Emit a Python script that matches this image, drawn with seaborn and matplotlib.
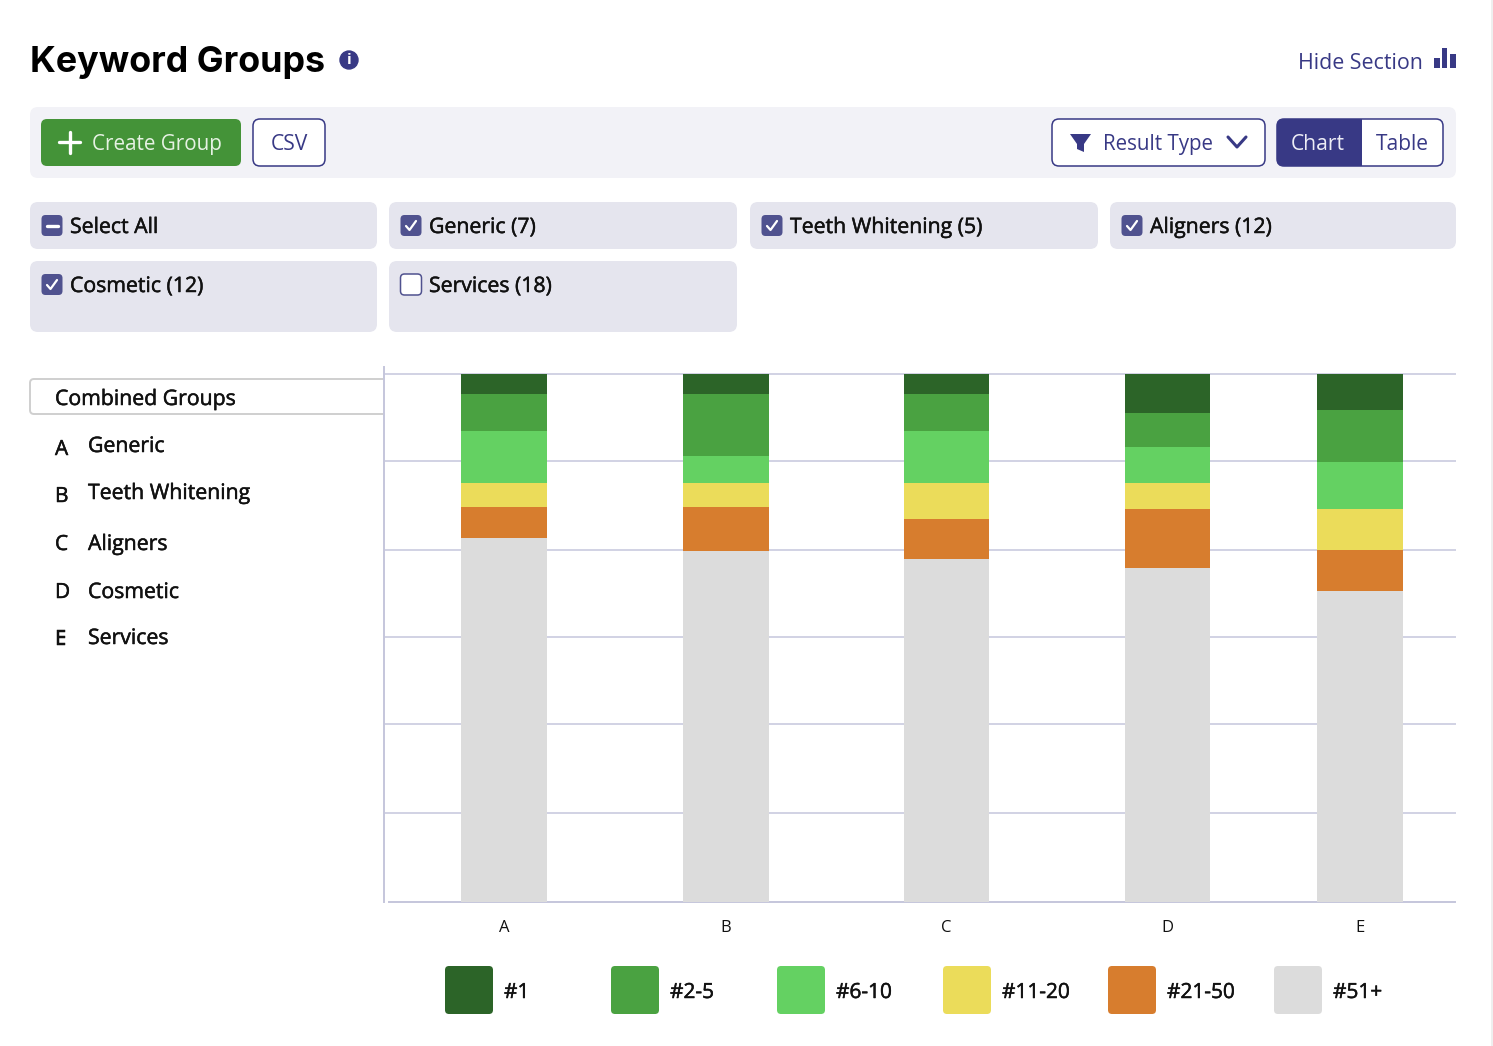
import matplotlib
matplotlib.use("Agg")
import matplotlib.patheffects as pe
import matplotlib.pyplot as plt
import numpy as np
import pandas as pd
import seaborn as sns
from matplotlib.patches import Circle, FancyBboxPatch, Polygon, Rectangle

# values are percent of keywords in each rank band
groups = ["A", "B", "C", "D", "E"]
group_names = ["Generic", "Teeth Whitening", "Aligners", "Cosmetic", "Services"]
group_slots = [0, 1.005, 2.003, 3.002, 3.873]  # the last bar sits closer in the source
rank_1 = [3.9, 3.9, 3.8, 7.5, 6.8]
rank_2_5 = [7.0, 11.7, 7.0, 6.3, 9.8]
rank_6_10 = [9.8, 5.1, 9.8, 6.8, 8.9]
rank_11_20 = [4.5, 4.5, 6.8, 4.9, 7.8]
rank_21_50 = [5.9, 8.3, 7.6, 11.2, 7.8]
rank_51_up = [68.9, 66.5, 65.0, 63.3, 58.9]
rank_labels = ["#1", "#2-5", "#6-10", "#11-20", "#21-50", "#51+"]
rank_colors = ["#2C6428", "#4AA241", "#64D162", "#EBDC5A", "#D77D2E", "#DCDCDC"]
grid_values = [16.9, 33.7, 50.2, 66.7, 83.5, 100]

filter_labels = ["Select All", "Generic (7)", "Teeth Whitening (5)", "Aligners (12)", "Cosmetic (12)", "Services (18)"]

NAVY = "#383985"
CHECK = "#50528F"
TILE = "#E5E5EE"
INK = "#111111"
W, H = 1493, 1046

sns.set_theme(style="white")
plt.rcParams["font.family"] = ["Open Sans", "DejaVu Sans"]

fig = plt.figure(figsize=(W / 100, H / 100), dpi=100, facecolor="white")

# page furniture lives on one axes that uses pixel coordinates
ui = fig.add_axes([0, 0, 1, 1])
ui.set_xlim(0, W)
ui.set_ylim(H, 0)
ui.axis("off")

# the source text is a medium weight, a thin stroke gets close to that
medium = [pe.withStroke(linewidth=0.35, foreground=INK)]


def box(x0, y0, x1, y1, face, edge="none", r=7, lw=1.1):
    ui.add_patch(FancyBboxPatch((x0 + r, y0 + r), x1 - x0 - 2 * r, y1 - y0 - 2 * r,
                                boxstyle="round,pad={},rounding_size={}".format(r, r),
                                fc=face, ec=edge, lw=lw))


def label(x, y, s, color=INK, size=15.3, ha="left", **kw):
    t = ui.text(x, y, s, color=color, fontsize=size, ha=ha, va="center_baseline", **kw)
    if color == INK:
        t.set_path_effects(medium)


def checkbox(x, y, state):
    if state == "empty":
        box(x, y, x + 21, y + 21, "white", CHECK, r=4)
        return
    box(x, y, x + 21, y + 21, CHECK, r=4)
    if state == "minus":
        ui.plot([x + 5, x + 16], [y + 10.5, y + 10.5], color="white", lw=2.4, solid_capstyle="round")
    else:
        ui.plot([x + 5.5, x + 9, x + 15.5], [y + 11, y + 15, y + 6], color="white", lw=1.6)


ui.text(30, 72, "Keyword Groups", color="black", fontsize=25.8, family="Inter", weight="bold")
ui.add_patch(Circle((349, 60), 9, color=NAVY))
ui.text(349, 60.5, "i", color="white", fontsize=11, weight="bold", ha="center", va="center")

label(1298, 61, "Hide Section", color=NAVY, size=15.4)
for x0, top in [(1434, 58), (1441.5, 48), (1450, 54)]:
    ui.add_patch(Rectangle((x0, top), 5.5, 68 - top, fc=NAVY, lw=0))

# toolbar
box(30, 107, 1456, 178, "#F2F2F7", r=8)
box(41, 119, 241, 166, "#449338", r=6)
ui.plot([59, 80], [142, 142], color="white", lw=2.4)
ui.plot([69.5, 69.5], [132, 153], color="white", lw=2.4)
label(92, 142, "Create Group", color="#E6F2E3", size=14.9)
box(253, 119, 325, 166, "white", NAVY, r=7)
label(289, 142, "CSV", color=NAVY, size=15.2, ha="center")

box(1052, 119, 1265, 166, "white", NAVY, r=7)
ui.add_patch(Polygon([(1070, 134), (1091, 134), (1084, 144), (1084, 152), (1077, 149), (1077, 144)], fc=NAVY, lw=0))
label(1103, 142, "Result Type", color=NAVY, size=14.8)
ui.plot([1228, 1237, 1246], [137, 147, 137], color=NAVY, lw=2.2)

box(1277, 119, 1443, 166, "white", NAVY, r=7)
box(1277, 119, 1300, 166, NAVY, r=7)
ui.add_patch(Rectangle((1290, 119), 72, 47, fc=NAVY, lw=0))
label(1318, 142, "Chart", color="#EDEDF6", size=15.1, ha="center")
label(1402, 142, "Table", color=NAVY, size=15.1, ha="center")

# filter tiles
tile_spans = [(30, 377), (389, 737), (750, 1098), (1110, 1456), (30, 377), (389, 737)]
tile_rows = [(202, 249)] * 4 + [(261, 332)] * 2
tile_states = ["minus", "check", "check", "check", "check", "empty"]
for (x0, x1), (y0, y1), state, text in zip(tile_spans, tile_rows, tile_states, filter_labels):
    box(x0, y0, x1, y1, TILE, r=8)
    checkbox(x0 + 11.5, y0 + 13, state)
    label(x0 + 40, y0 + 23, text)

# key for the group letters
box(30, 379, 400, 414, "white", "#CFCFCF", r=4, lw=1.4)
ui.add_patch(Rectangle((384, 370), 30, 50, fc="white", lw=0, zorder=3))
label(55, 397, "Combined Groups")
letter_ys = [447, 494, 542, 590, 637]
name_ys = [444, 491, 542, 590, 636]
for letter, name, ly, ny in zip(groups, group_names, letter_ys, name_ys):
    label(55, ly, letter, size=15)
    label(88, ny, name)

# legend swatches
legend_xs = [445, 611, 777, 943, 1108, 1274]
for x0, color, text in zip(legend_xs, rank_colors, rank_labels):
    box(x0, 966, x0 + 48, 1014, color, r=4)
    label(x0 + 59, 990, text, size=15)

ui.add_patch(Rectangle((1491, 0), 2, H, fc="#EFEFEF", lw=0))

# the stacked chart: same pixel scale, sits over the ui axes
ax = fig.add_axes([384 / W, 1 - 902 / H, (1456 - 384) / W, (902 - 367) / H])
ax.patch.set_alpha(0)

bands = [rank_1, rank_2_5, rank_6_10, rank_11_20, rank_21_50, rank_51_up]
for i, color in enumerate(rank_colors):
    # widest stack first, each later band paints over the lower part
    top = np.sum(bands[i:], axis=0)
    frame = pd.DataFrame({"slot": group_slots, "top": top})
    sns.barplot(data=frame, x="slot", y="top", color=color, saturation=1, width=0.444,
                native_scale=True, linewidth=0, edgecolor="none", ax=ax, zorder=3)

ax.set_xlim(-120 / 221, 952 / 221)
ax.set_ylim(0, 101.3)
ax.set_xticks(group_slots)
ax.set_xticklabels(groups, fontsize=12, color=INK)
ax.set_yticks(grid_values)
ax.set_yticklabels([])
ax.tick_params(axis="x", length=0, pad=13)
ax.tick_params(axis="y", length=0)
ax.set_xlabel("")
ax.set_ylabel("")
ax.grid(axis="y", color="#C5C6DC", lw=1.1)
ax.set_axisbelow(True)
sns.despine(ax=ax, top=True, right=True)
ax.spines["left"].set_color("#C5C6DC")
ax.spines["left"].set_linewidth(1.4)
ax.spines["bottom"].set_color("#C5C6DC")
ax.spines["bottom"].set_linewidth(1.4)
ax.spines["bottom"].set_bounds(-115 / 221, 951 / 221)

fig.savefig("out.png", dpi=100, facecolor="white")
